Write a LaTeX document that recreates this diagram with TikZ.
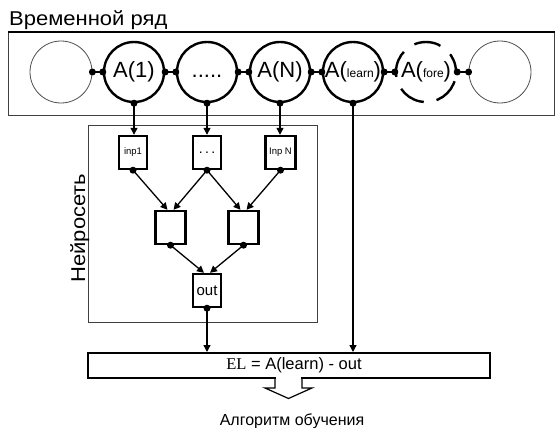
\documentclass[tikz,border=0pt]{standalone}
\usepackage{fontspec}
\setmainfont{Liberation Sans}
\newfontfamily\widefont[FakeStretch=1.1]{Liberation Sans}
\newfontfamily\elserif{Liberation Serif}
\usetikzlibrary{arrows.meta}
\begin{document}
\begin{tikzpicture}[x=1pt,y=-1pt,
  thincirc/.style={circle, draw=black!70, line width=0.8pt, minimum size=62pt, inner sep=0pt},
  thickcirc/.style={circle, draw=black, line width=2.4pt, minimum size=60pt, inner sep=0pt},
  dashcirc/.style={thickcirc, dash pattern=on 27pt off 13pt, dash phase=8pt},
  clbl/.style={inner sep=0pt, font=\fontsize{22}{24}\selectfont},
  dot/.style={circle, fill=black, inner sep=0pt, minimum size=7pt},
  nbox/.style={draw=black, line width=2.4pt, minimum width=28pt, minimum height=33pt, inner sep=0pt},
  frame/.style={draw=black!75, line width=0.8pt, inner sep=0pt},
  arr/.style={-{Triangle[length=7pt,width=7pt]}, line width=1.3pt},
  link/.style={line width=1.5pt}
]
\useasboundingbox (0,0) rectangle (555,428);

% title
\node[anchor=base west, inner sep=0pt, font=\widefont\fontsize{20}{22}\selectfont] (title) at (9,26) {Временной ряд};

% time series frame
\node[frame, minimum width=546pt, minimum height=83pt, anchor=north west] (tsbox) at (8,32) {};
\draw[line width=2pt] (tsbox.north west) -- (tsbox.north east);

% circles
\node[thincirc] (c0) at (61,72) {};
\node[thickcirc] (c1) at (134,72) {};
\node[thickcirc] (c2) at (207,72) {};
\node[thickcirc] (c3) at (280,72) {};
\node[thickcirc] (c4) at (353,72) {};
\node[dashcirc] (c5) at (426,72) {};
\node[thincirc] (c6) at (500,72) {};

\node[clbl] (l1) at (c1) {A(1)};
\node[clbl] (l2) at (c2) {\vphantom{A(}.....};
\node[clbl] (l3) at (c3) {A(N)};
\node[clbl] (l4) at (c4) {A(\fontsize{12}{14}\selectfont learn\fontsize{22}{24}\selectfont)};
\node[clbl] (l5) at (c5) {A(\fontsize{12}{14}\selectfont fore\fontsize{22}{24}\selectfont)};

% links between circles
\foreach \a/\b in {c0/c1,c1/c2,c2/c3,c3/c4,c4/c5,c5/c6}{
  \draw[link] (\a.east) -- (\b.west);
  \node[dot] at (\a.east) {};
  \node[dot] at (\b.west) {};
}
\foreach \a in {c1,c2,c3,c4}{
  \node[dot] at (\a.south) {};
}

% neural net frame
\node[frame, minimum width=229pt, minimum height=197pt, anchor=north west] (nnbox) at (88,125) {};
\node[rotate=90, anchor=base, inner sep=0pt, font=\widefont\fontsize{20}{22}\selectfont] (nnlbl) at (85,228) {Нейросеть};

% neural boxes
\node[nbox] (i1) at (133,152.5) {\fontsize{9.5}{10}\selectfont inp1};
\node[nbox] (i2) at (207,152.5) {\fontsize{14}{16}\selectfont .\,.\,.};
\node[nbox, minimum width=30pt] (i3) at (280.5,152.5) {\fontsize{9.5}{10}\selectfont Inp N};
\node[nbox, minimum width=30pt] (h1) at (170.5,227.5) {};
\node[nbox, minimum width=30pt] (h2) at (243.5,227.5) {};
\node[nbox] (out) at (207,290.5) {\fontsize{15}{17}\selectfont out};

% arrows from circles to inputs
\draw[arr] (c1.south) -- (c1.south |- i1.north);
\draw[arr] (c2.south) -- (c2.south |- i2.north);
\draw[arr] (c3.south) -- (c3.south |- i3.north);

% network arrows
\draw[arr] (i1.south) -- ([xshift=-3pt]h1.north);
\draw[arr] (i2.south) -- ([xshift=3pt]h1.north);
\draw[arr] (i2.south) -- ([xshift=-3pt]h2.north);
\draw[arr] (i3.south) -- ([xshift=3pt]h2.north);
\draw[arr] (h1.south) -- ([xshift=-3pt]out.north);
\draw[arr] (h2.south) -- ([xshift=3pt]out.north);
\foreach \n in {i1,i2,i3,h1,h2,out}{ \node[dot] at (\n.south) {}; }

% error box
\node[draw=black, line width=1.8pt, minimum width=402pt, minimum height=25pt, inner sep=0pt, anchor=north west] (elbox) at (87,352) {};
\node[inner sep=0pt, font=\fontsize{16.5}{18}\selectfont] (eltext) at (294,365) {{\elserif EL} = A(learn) - out};

\draw[arr] (out.south) -- (out.south |- elbox.north);
\draw[arr] (c4.south) -- (c4.south |- elbox.north);

% hollow arrow
\fill[white] (275.6,375.5) rectangle (301.4,379);
\draw[line width=1.2pt, line join=miter] (275,377) -- (275,388) -- (265,388) -- (288.5,398.5) -- (312,388) -- (302,388) -- (302,377);

\node[anchor=base, inner sep=0pt, font=\fontsize{16}{18}\selectfont] (algo) at (292,425) {Алгоритм обучения};
\end{tikzpicture}
\end{document}
